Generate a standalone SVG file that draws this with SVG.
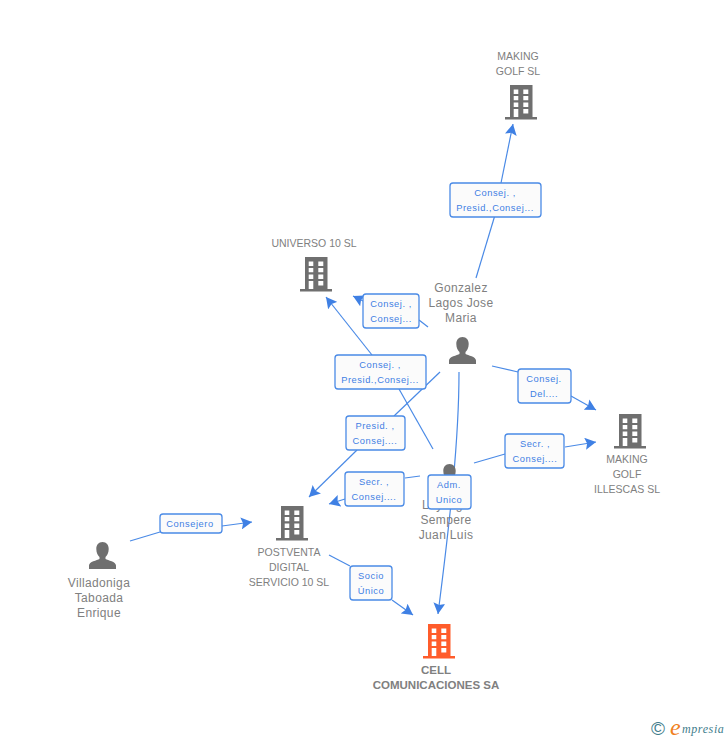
<svg xmlns="http://www.w3.org/2000/svg" width="728" height="740" viewBox="0 0 728 740">
<defs>
<symbol id="bld" viewBox="0 0 32 35" width="32" height="35" overflow="visible">
<path fill-rule="evenodd" d="M5 0H27.500V32H32V34.500H0V32H5ZM8.700 4.500V9H13.300V4.500ZM18.300 4.500V9H23.300V4.500ZM8.700 11V15.300H13.300V11ZM18.300 11V15.300H23.300V11ZM8.700 17.500V22H13.300V17.500ZM18.300 17.500V22H23.300V17.500ZM8.700 24V32H13.300V24ZM18.300 24V28.500H23.300V24Z"/>
</symbol>
<symbol id="psn" viewBox="0 0 27 27" width="27" height="27" overflow="visible">
<path d="M13.500 0C17.500 0 19.700 3 19.700 7C19.700 11 18 13.800 16.500 15V17C19 18.500 27 19.500 27 23.500V27H0V23.500C0 19.500 8 18.500 10.500 17V15C9 13.800 7.300 11 7.300 7C7.300 3 9.500 0 13.500 0Z"/>
</symbol>
<marker id="arr" viewBox="0 0 12 12" refX="11" refY="6" markerWidth="12" markerHeight="12" markerUnits="userSpaceOnUse" orient="auto">
<path d="M0 0L11 6L0 12L2 6Z" fill="#3f80e4"/>
</marker>
</defs>
<style>
text{font-family:"Liberation Sans",Arial,sans-serif}
.lbl{font-size:10.500px;fill:#808080;text-anchor:middle}
.big{font-size:12px;fill:#808080;text-anchor:middle;letter-spacing:.35px}
.main{font-size:11.500px;font-weight:bold;fill:#808080;text-anchor:middle}
.edge{font-size:9.300px;fill:#3f80e4;text-anchor:middle;letter-spacing:.55px}
.box{fill:#fbfbfb;stroke:#4a8ae6;stroke-width:1.300}
.ln{fill:none;stroke:#4a8ae6;stroke-width:1.200}
.ar{marker-end:url(#arr)}
.gr{fill:#6f6f6f}
.or{fill:#ff5c2b}
</style>
<rect width="728" height="740" fill="#fff"/>
<g id="connectors">
<path class="ln" d="M476 278L495 215"/>
<path class="ln ar" d="M501 183L513 124"/>
<path class="ln" d="M428 327L419 320"/>
<path class="ln ar" d="M363 301L353 296"/>
<path class="ln ar" d="M372 355L326 297"/>
<path class="ln" d="M440 372L394 416"/>
<path class="ln ar" d="M357 450L309 497"/>
<path class="ln" d="M399 389L433 449"/>
<path class="ln" d="M492 366L518 372"/>
<path class="ln ar" d="M571 396L596 410"/>
<path class="ln" d="M474 463L505 454"/>
<path class="ln ar" d="M565 447L596 442"/>
<path class="ln" d="M420 476L405 478"/>
<path class="ln ar" d="M345 499L329 504"/>
<path class="ln ar" d="M459 372C459 440 450 520 438 614"/>
<path class="ln" d="M130 541L160 532"/>
<path class="ln ar" d="M222 526L252 522"/>
<path class="ln" d="M329 555L350 566"/>
<path class="ln ar" d="M392 600L413 615"/>
</g>
<g id="node-making-golf"><text class="lbl" x="518" y="60">MAKING</text><text class="lbl" x="518" y="75">GOLF SL</text><use href="#bld" class="gr" x="505" y="85"/></g>
<g id="node-universo"><text class="lbl" x="314" y="247">UNIVERSO 10 SL</text><use href="#bld" class="gr" x="300" y="257"/></g>
<g id="node-illescas"><use href="#bld" class="gr" x="614" y="414"/><text class="lbl" x="627" y="463">MAKING</text><text class="lbl" x="627" y="478">GOLF</text><text class="lbl" x="627" y="493">ILLESCAS SL</text></g>
<g id="node-postventa"><use href="#bld" class="gr" x="276" y="506"/><text class="lbl" x="289" y="556">POSTVENTA</text><text class="lbl" x="289" y="571">DIGITAL</text><text class="lbl" x="289" y="586">SERVICIO 10 SL</text></g>
<g id="node-cell"><use href="#bld" class="or" x="423" y="624"/><text class="main" x="436" y="674">CELL</text><text class="main" x="436" y="689">COMUNICACIONES SA</text></g>
<g id="node-gonzalez"><text class="big" x="461" y="292">Gonzalez</text><text class="big" x="461" y="307">Lagos Jose</text><text class="big" x="461" y="322">Maria</text><use href="#psn" class="gr" x="449" y="337"/></g>
<g id="node-sempere"><use href="#psn" class="gr" x="436" y="464"/><text class="big" x="446" y="509">Loyzaga</text><text class="big" x="446" y="524">Sempere</text><text class="big" x="446" y="539">Juan Luis</text></g>
<g id="node-villadoniga"><use href="#psn" class="gr" x="89" y="542"/><text class="big" x="99" y="587">Villadoniga</text><text class="big" x="99" y="602">Taboada</text><text class="big" x="99" y="617">Enrique</text></g>
<g id="label-1"><rect class="box" x="450" y="183" width="91" height="34" rx="3"/><text class="edge" x="495" y="196">Consej. ,</text><text class="edge" x="495" y="211">Presid.,Consej...</text></g>
<g id="label-2"><rect class="box" x="363" y="294" width="56" height="34" rx="3"/><text class="edge" x="391" y="307">Consej. ,</text><text class="edge" x="391" y="322">Consej...</text></g>
<g id="label-3"><rect class="box" x="335" y="355" width="91" height="34" rx="3"/><text class="edge" x="380" y="368">Consej. ,</text><text class="edge" x="380" y="383">Presid.,Consej...</text></g>
<g id="label-4"><rect class="box" x="518" y="369" width="53" height="34" rx="3"/><text class="edge" x="544" y="382">Consej.</text><text class="edge" x="544" y="397">Del....</text></g>
<g id="label-5"><rect class="box" x="346" y="416" width="59" height="34" rx="3"/><text class="edge" x="375" y="429">Presid. ,</text><text class="edge" x="375" y="444">Consej....</text></g>
<g id="label-6"><rect class="box" x="505" y="434" width="59" height="34" rx="3"/><text class="edge" x="535" y="447">Secr. ,</text><text class="edge" x="535" y="462">Consej....</text></g>
<g id="label-7"><rect class="box" x="345" y="472" width="59" height="34" rx="3"/><text class="edge" x="374" y="485">Secr. ,</text><text class="edge" x="374" y="500">Consej....</text></g>
<g id="label-8"><rect class="box" x="428" y="475" width="43" height="34" rx="3"/><text class="edge" x="449" y="488">Adm.</text><text class="edge" x="449" y="503">Unico</text></g>
<g id="label-9"><rect class="box" x="160" y="514" width="62" height="19" rx="3"/><text class="edge" x="190" y="527">Consejero</text></g>
<g id="label-10"><rect class="box" x="350" y="566" width="42" height="34" rx="3"/><text class="edge" x="371" y="579">Socio</text><text class="edge" x="371" y="594">Único</text></g>
<g id="logo"><text x="658" y="735" font-size="19" fill="#3f7d8c" text-anchor="middle">©</text><text x="670" y="735" font-size="24" fill="#f08020" font-style="italic" style="font-family:'Liberation Serif',serif">e</text><text x="682" y="733" font-size="12" fill="#3f7d8c" font-style="italic" letter-spacing=".6" style="font-family:'Liberation Serif',serif">mpresia</text></g>
</svg>
